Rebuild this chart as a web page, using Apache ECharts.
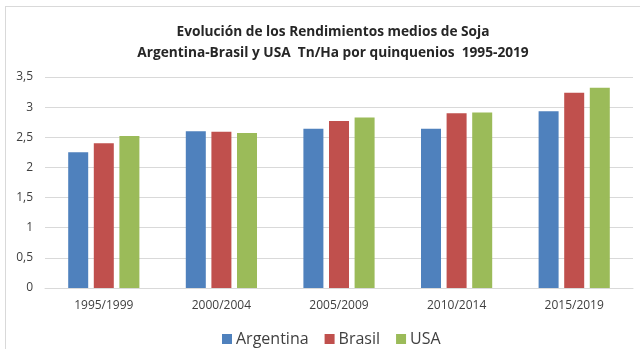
<!DOCTYPE html>
<html><head><meta charset="utf-8">
<script src="https://cdn.jsdelivr.net/npm/echarts@6/dist/echarts.min.js"></script>
<style>
html,body{margin:0;padding:0;background:#fff;overflow:hidden;}
#frame{position:absolute;left:5px;top:6px;width:700px;height:400px;border:1px solid #d9d9d9;box-sizing:border-box;}
#c{position:absolute;left:0;top:0;width:640px;height:349px;}
</style></head>
<body>
<div id="frame"></div>
<div id="c"></div>
<script>
const categories = ['1995/1999','2000/2004','2005/2009','2010/2014','2015/2019'];
const argentina = [2.25, 2.60, 2.64, 2.64, 2.93];
const brasil = [2.40, 2.59, 2.77, 2.90, 3.24];
const usa = [2.52, 2.57, 2.83, 2.91, 3.32];
const yTicks = [0, 0.5, 1, 1.5, 2, 2.5, 3, 3.5];

const chart = echarts.init(document.getElementById('c'));
const font = 'Open Sans';
function mk(name, data, color){
  return {name, type:'bar', data, barWidth:20, barGap:'28%', itemStyle:{color}};
}
chart.setOption({
  animation:false,
  title:{
    text:'Evolución de los Rendimientos medios de Soja\nArgentina-Brasil y USA  Tn/Ha por quinquenios  1995-2019',
    left:328, top:17, padding:5, textAlign:'center',
    textStyle:{fontFamily:font, fontSize:13.7, fontWeight:'bold', color:'#262626', lineHeight:21}
  },
  legend:{
    bottom:-3, left:217, itemWidth:10, itemHeight:10, itemGap:16,
    icon:'rect',
    textStyle:{fontFamily:font, fontSize:16, color:'#404040', padding:[0,0,0,-1]}
  },
  grid:{left:45, right:7, top:77, bottom:61},
  xAxis:{
    type:'category', data:categories,
    axisLine:{lineStyle:{color:'#d9d9d9'}},
    axisTick:{show:false},
    axisLabel:{fontFamily:font, fontSize:12, color:'#404040', margin:12}
  },
  yAxis:{
    type:'value', min:0, max:3.5, interval:0.5,
    axisLine:{show:false}, axisTick:{show:false},
    splitLine:{lineStyle:{color:'#d9d9d9'}},
    axisLabel:{fontFamily:font, fontSize:12, color:'#404040', margin:12,
      formatter:v=>{const s=yTicks.find(t=>Math.abs(t-v)<1e-9); return String(s===undefined?v:s).replace('.',',');}}
  },
  series:[mk('Argentina',argentina,'#4F81BD'), mk('Brasil',brasil,'#C0504D'), mk('USA',usa,'#9BBB59')]
});
</script>
</body></html>
